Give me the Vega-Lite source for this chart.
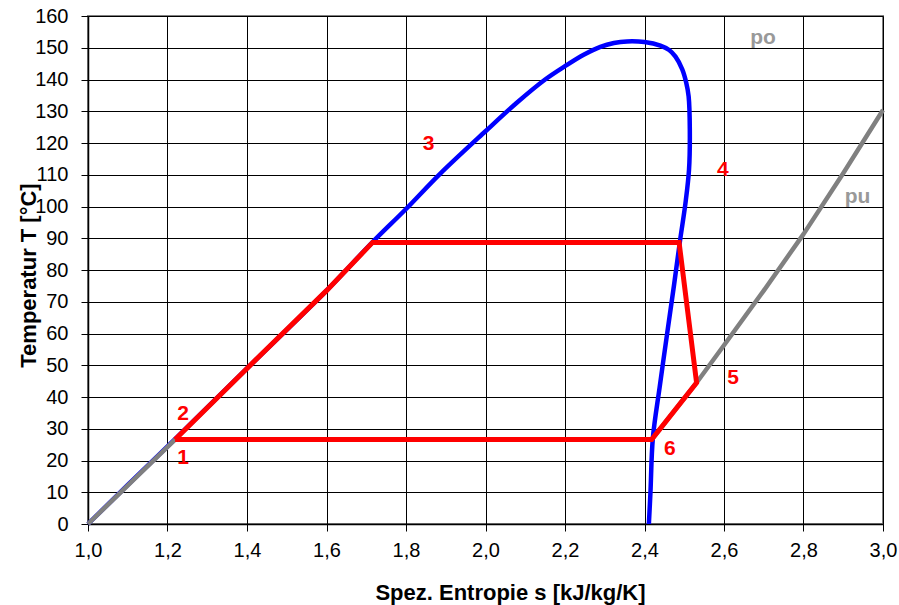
{
  "$schema": "https://vega.github.io/schema/vega-lite/v6.json",
  "width": 795,
  "height": 508,
  "autosize": {"type": "none"},
  "padding": {"left": 88, "top": 16, "right": 16, "bottom": 81},
  "background": "white",
  "datasets": {
    "dome": [
      {"i": 0, "s": 1.0, "T": 0},
      {"i": 1, "s": 1.1, "T": 12.3},
      {"i": 2, "s": 1.219, "T": 26.7},
      {"i": 3, "s": 1.4, "T": 49},
      {"i": 4, "s": 1.6, "T": 73.5},
      {"i": 5, "s": 1.716, "T": 88.8},
      {"i": 6, "s": 1.8, "T": 99.2},
      {"i": 7, "s": 1.885, "T": 110.2},
      {"i": 8, "s": 2.0, "T": 123.7},
      {"i": 9, "s": 2.078, "T": 132.6},
      {"i": 10, "s": 2.15, "T": 140},
      {"i": 11, "s": 2.2, "T": 144.2},
      {"i": 12, "s": 2.247, "T": 147.8},
      {"i": 13, "s": 2.289, "T": 150.3},
      {"i": 14, "s": 2.323, "T": 151.5},
      {"i": 15, "s": 2.356, "T": 152},
      {"i": 16, "s": 2.4, "T": 151.8},
      {"i": 17, "s": 2.44, "T": 150.7},
      {"i": 18, "s": 2.462, "T": 149.3},
      {"i": 19, "s": 2.478, "T": 147.2},
      {"i": 20, "s": 2.495, "T": 143.2},
      {"i": 21, "s": 2.505, "T": 139},
      {"i": 22, "s": 2.511, "T": 134.7},
      {"i": 23, "s": 2.514, "T": 124.2},
      {"i": 24, "s": 2.512, "T": 111.6},
      {"i": 25, "s": 2.503, "T": 101},
      {"i": 26, "s": 2.489, "T": 88.9},
      {"i": 27, "s": 2.474, "T": 75},
      {"i": 28, "s": 2.457, "T": 60},
      {"i": 29, "s": 2.438, "T": 43},
      {"i": 30, "s": 2.421, "T": 27},
      {"i": 31, "s": 2.415, "T": 10},
      {"i": 32, "s": 2.411, "T": 0}
    ],
    "pu": [
      {"i": 0, "s": 1.0, "T": 0},
      {"i": 1, "s": 1.219, "T": 26.6},
      {"i": 2, "s": 2.418, "T": 26.6},
      {"i": 3, "s": 2.531, "T": 44.5},
      {"i": 4, "s": 2.6, "T": 56.3},
      {"i": 5, "s": 2.7, "T": 73.5},
      {"i": 6, "s": 2.8, "T": 91.3},
      {"i": 7, "s": 2.9, "T": 110.5},
      {"i": 8, "s": 3.0, "T": 130.4}
    ],
    "cycle": [
      {"i": 0, "s": 1.219, "T": 26.6},
      {"i": 1, "s": 1.4, "T": 49},
      {"i": 2, "s": 1.6, "T": 73.5},
      {"i": 3, "s": 1.716, "T": 88.7},
      {"i": 4, "s": 2.487, "T": 88.7},
      {"i": 5, "s": 2.531, "T": 44.5},
      {"i": 6, "s": 2.418, "T": 26.6},
      {"i": 7, "s": 1.219, "T": 26.6}
    ],
    "labels": [
      {"s": 1.2395, "T": 20.9, "t": "1", "g": "state"},
      {"s": 1.2395, "T": 34.8, "t": "2", "g": "state"},
      {"s": 1.857, "T": 119.8, "t": "3", "g": "state"},
      {"s": 2.597, "T": 111.4, "t": "4", "g": "state"},
      {"s": 2.623, "T": 46, "t": "5", "g": "state"},
      {"s": 2.464, "T": 23.7, "t": "6", "g": "state"},
      {"s": 2.698, "T": 153.1, "t": "po", "g": "isobar"},
      {"s": 2.936, "T": 103.1, "t": "pu", "g": "isobar"}
    ]
  },
  "encoding": {
    "x": {
      "field": "s", "type": "quantitative",
      "scale": {"domain": [1, 3], "nice": false, "zero": false},
      "axis": {
        "title": "Spez. Entropie s [kJ/kg/K]",
        "values": [1, 1.2, 1.4, 1.6, 1.8, 2, 2.2, 2.4, 2.6, 2.8, 3],
        "labelExpr": "replace(format(datum.value, '.1f'), '.', ',')",
        "labelPadding": 9,
        "labelFlush": false,
        "titleX": 422,
        "titleY": 68,
        "titleBaseline": "middle",
        "titleAlign": "center"
      }
    },
    "y": {
      "field": "T", "type": "quantitative",
      "scale": {"domain": [0, 160], "nice": false, "zero": false},
      "axis": {
        "title": "Temperatur T [°C]",
        "values": [0, 10, 20, 30, 40, 50, 60, 70, 80, 90, 100, 110, 120, 130, 140, 150, 160],
        "labelPadding": 13,
        "labelFlush": false,
        "titleAngle": -90,
        "titleX": -60,
        "titleY": 259,
        "titleBaseline": "middle",
        "titleAlign": "center"
      }
    }
  },
  "layer": [
    {
      "data": {"name": "dome"},
      "mark": {"type": "line", "color": "#0000FF", "strokeWidth": 4.5, "interpolate": "catmull-rom", "strokeJoin": "round"},
      "encoding": {"order": {"field": "i", "type": "quantitative"}}
    },
    {
      "data": {"name": "pu"},
      "mark": {"type": "line", "color": "#808080", "strokeWidth": 4.5, "strokeJoin": "round"},
      "encoding": {"order": {"field": "i", "type": "quantitative"}}
    },
    {
      "data": {"name": "cycle"},
      "mark": {"type": "line", "color": "#FF0000", "strokeWidth": 5, "strokeJoin": "miter"},
      "encoding": {"order": {"field": "i", "type": "quantitative"}}
    },
    {
      "data": {"name": "labels"},
      "mark": {"type": "text", "font": "Liberation Sans", "fontWeight": "bold", "fontSize": 21, "baseline": "middle", "align": "center"},
      "encoding": {
        "text": {"field": "t"},
        "color": {"field": "g", "type": "nominal", "scale": {"domain": ["state", "isobar"], "range": ["#FF0000", "#999999"]}, "legend": null}
      }
    }
  ],
  "config": {
    "view": {"stroke": "#808080", "strokeWidth": 2},
    "axis": {
      "grid": true,
      "gridColor": "#000000",
      "gridWidth": 1,
      "gridOpacity": 1,
      "domainColor": "#000000",
      "domainWidth": 1.5,
      "tickColor": "#000000",
      "tickSize": 7,
      "tickWidth": 1,
      "labelFont": "Liberation Sans",
      "labelFontSize": 20,
      "labelColor": "#000000",
      "labelOverlap": false,
      "titleFont": "Liberation Sans",
      "titleFontSize": 22,
      "titleFontWeight": "bold",
      "titleColor": "#000000"
    }
  }
}
